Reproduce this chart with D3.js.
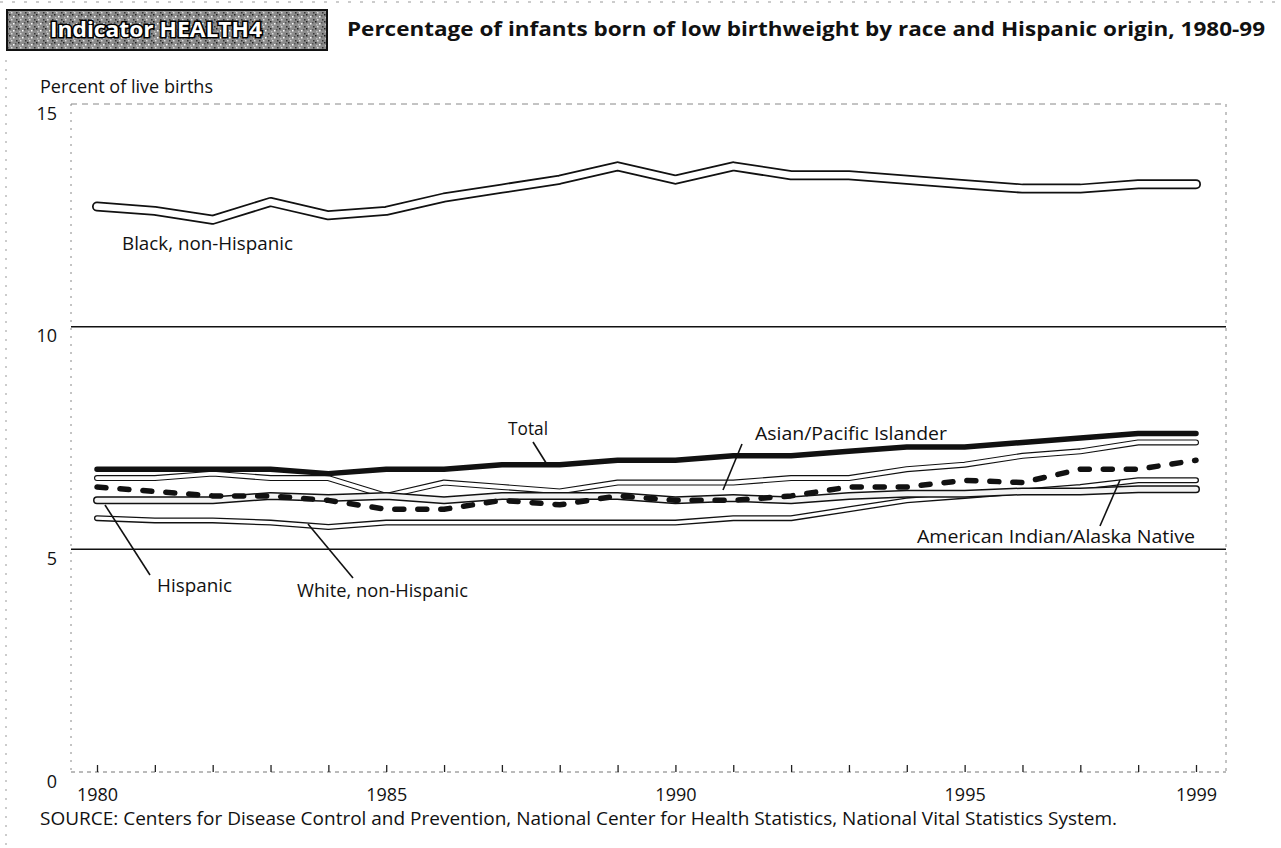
<!DOCTYPE html>
<html>
<head>
<meta charset="utf-8">
<script src="https://cdn.jsdelivr.net/npm/d3@7"></script>
<style>
  body { margin: 0; background: #fff; }
  svg { display: block; font-family: "Open Sans", sans-serif; }
</style>
</head>
<body>
<script>
var width = 1281, height = 848;

// data (percent of live births)
var years = [1980, 1981, 1982, 1983, 1984, 1985, 1986, 1987, 1988, 1989,
             1990, 1991, 1992, 1993, 1994, 1995, 1996, 1997, 1998, 1999];
var total    = [6.8, 6.8, 6.8, 6.8, 6.7, 6.8, 6.8, 6.9, 6.9, 7.0, 7.0, 7.1, 7.1, 7.2, 7.3, 7.3, 7.4, 7.5, 7.6, 7.6];
var blackNH  = [12.7, 12.6, 12.4, 12.8, 12.5, 12.6, 12.9, 13.1, 13.3, 13.6, 13.3, 13.6, 13.4, 13.4, 13.3, 13.2, 13.1, 13.1, 13.2, 13.2];
var whiteNH  = [5.7, 5.65, 5.65, 5.6, 5.5, 5.6, 5.6, 5.6, 5.6, 5.6, 5.6, 5.7, 5.7, 5.9, 6.1, 6.2, 6.3, 6.4, 6.55, 6.55];
var hispanic = [6.1, 6.1, 6.1, 6.2, 6.15, 6.2, 6.1, 6.2, 6.2, 6.2, 6.1, 6.15, 6.1, 6.2, 6.25, 6.25, 6.3, 6.3, 6.35, 6.35];
var asianPI  = [6.6, 6.6, 6.7, 6.6, 6.6, 6.2, 6.5, 6.4, 6.3, 6.5, 6.5, 6.5, 6.6, 6.6, 6.8, 6.9, 7.1, 7.2, 7.4, 7.4];
var aian     = [6.4, 6.3, 6.2, 6.2, 6.1, 5.9, 5.9, 6.1, 6.0, 6.2, 6.1, 6.1, 6.2, 6.4, 6.4, 6.55, 6.5, 6.8, 6.8, 7.0];

var yTicks = [0, 5, 10, 15];
var gridValues = [5, 10];
var xLabels = [1980, 1985, 1990, 1995, 1999];

var titleText = "Percentage of infants born of low birthweight by race and Hispanic origin, 1980-99";
var sourceText = "SOURCE: Centers for Disease Control and Prevention, National Center for Health Statistics, National Vital Statistics System.";

var plot = { left: 71, right: 1226, top: 104, bottom: 772 };

var x = d3.scaleLinear([1980, 1999], [97, 1196]);
var y = d3.scaleLinear([0, 15], [plot.bottom, plot.top]);

var svg = d3.select("body").append("svg")
    .attr("width", width)
    .attr("height", height);

// scanned page edges
svg.append("line").attr("x1", 0).attr("x2", width).attr("y1", 2).attr("y2", 2)
    .attr("stroke", "#999").attr("stroke-width", 1).attr("stroke-dasharray", "3 9");
svg.append("line").attr("x1", 6).attr("x2", 6).attr("y1", 60).attr("y2", height)
    .attr("stroke", "#999").attr("stroke-width", 1).attr("stroke-dasharray", "2 7");

// indicator box with speckled fill
var defs = svg.append("defs");
var pat = defs.append("pattern").attr("id", "speckle")
    .attr("width", 9).attr("height", 7).attr("patternUnits", "userSpaceOnUse");
pat.append("rect").attr("width", 9).attr("height", 7).attr("fill", "#8c8c8c");
[[0, 0, "#222"], [4, 2, "#fff"], [7, 5, "#333"], [2, 5, "#ddd"], [6, 1, "#555"], [1, 3, "#bbb"]]
    .forEach(function (d) {
        pat.append("rect").attr("x", d[0]).attr("y", d[1]).attr("width", 1.5).attr("height", 1.5).attr("fill", d[2]);
    });

svg.append("rect")
    .attr("x", 7).attr("y", 10).attr("width", 320).attr("height", 40)
    .attr("fill", "url(#speckle)")
    .attr("stroke", "#111").attr("stroke-width", 2);

svg.append("text")
    .attr("x", 50).attr("y", 37)
    .attr("font-size", 21).attr("font-weight", 700)
    .attr("fill", "#fff").attr("stroke", "#000").attr("stroke-width", 3)
    .attr("paint-order", "stroke")
    .attr("textLength", 212).attr("lengthAdjust", "spacingAndGlyphs")
    .text("Indicator HEALTH4");

svg.append("text")
    .attr("x", 347).attr("y", 36)
    .attr("font-size", 20).attr("font-weight", 700)
    .attr("fill", "#111")
    .attr("textLength", 918).attr("lengthAdjust", "spacingAndGlyphs")
    .text(titleText);

svg.append("text")
    .attr("x", 40).attr("y", 93)
    .attr("font-size", 18).attr("fill", "#111")
    .attr("textLength", 173).attr("lengthAdjust", "spacingAndGlyphs")
    .text("Percent of live births");

// frame
var frame = svg.append("g").attr("fill", "none");
frame.append("line")
    .attr("x1", plot.left).attr("x2", plot.right).attr("y1", plot.top).attr("y2", plot.top)
    .attr("stroke", "#888").attr("stroke-dasharray", "6 5");
frame.append("line")
    .attr("x1", plot.left).attr("x2", plot.left).attr("y1", plot.top).attr("y2", plot.bottom)
    .attr("stroke", "#888").attr("stroke-dasharray", "2 6");
frame.append("line")
    .attr("x1", plot.right).attr("x2", plot.right).attr("y1", plot.top).attr("y2", plot.bottom)
    .attr("stroke", "#888").attr("stroke-dasharray", "3 5");
frame.append("line")
    .attr("x1", plot.left).attr("x2", plot.right).attr("y1", plot.bottom).attr("y2", plot.bottom)
    .attr("stroke", "#777").attr("stroke-dasharray", "4 4");

svg.append("g")
    .selectAll("line")
    .data(gridValues)
    .join("line")
    .attr("x1", plot.left).attr("x2", plot.right)
    .attr("y1", d => y(d)).attr("y2", d => y(d))
    .attr("stroke", "#111").attr("stroke-width", 1.5);

// y axis labels (text hangs just below its gridline)
var yAxis = svg.append("g")
    .attr("transform", `translate(${plot.left}, 0)`)
    .call(d3.axisLeft(y).tickValues(yTicks).tickSize(0).tickPadding(14).tickFormat(d3.format("d")));
yAxis.select(".domain").remove();
yAxis.selectAll("text")
    .attr("dy", 15)
    .attr("font-size", 18)
    .attr("font-family", "Open Sans, sans-serif")
    .attr("fill", "#111");

// x axis: a tick every year, labels only on a few
var xAxis = svg.append("g")
    .attr("transform", `translate(0, ${plot.bottom})`)
    .call(d3.axisBottom(x)
        .tickValues(years)
        .tickSizeInner(-7).tickSizeOuter(0)
        .tickPadding(16)
        .tickFormat(d => xLabels.includes(d) ? String(d) : ""));
xAxis.select(".domain").remove();
xAxis.selectAll(".tick line").attr("stroke", "#222").attr("stroke-width", 1.3);
xAxis.selectAll("text")
    .attr("font-size", 18)
    .attr("font-family", "Open Sans, sans-serif")
    .attr("fill", "#111");

// lines
var line = d3.line()
    .x((d, i) => x(years[i]))
    .y(d => y(d));

var lines = svg.append("g").attr("fill", "none").attr("stroke-linejoin", "round");

function doubleLine(values, outer, inner, innerColor) {
    lines.append("path").attr("d", line(values))
        .attr("stroke", "#111").attr("stroke-width", outer).attr("stroke-linecap", "round");
    lines.append("path").attr("d", line(values))
        .attr("stroke", innerColor).attr("stroke-width", inner).attr("stroke-linecap", "round");
}

doubleLine(asianPI, 6, 3.8, "#fff");
doubleLine(whiteNH, 6, 3.4, "#fff");
doubleLine(hispanic, 8, 5, "#f3f3f3");

lines.append("path").attr("d", line(aian))
    .attr("stroke", "#111").attr("stroke-width", 5.5)
    .attr("stroke-linecap", "round")
    .attr("stroke-dasharray", "9 14");

lines.append("path").attr("d", line(total))
    .attr("stroke", "#111").attr("stroke-width", 5.5)
    .attr("stroke-linecap", "round");

doubleLine(blackNH, 10, 6.5, "#fff");

// series labels with leader lines
var labels = [
    { text: "Black, non-Hispanic", x: 122, y: 250, w: 171 },
    { text: "Total", x: 508, y: 435, w: 40, lead: [[533, 442], [548, 466]] },
    { text: "Asian/Pacific Islander", x: 755, y: 440, w: 192, lead: [[742, 444], [723, 490]] },
    { text: "American Indian/Alaska Native", x: 917, y: 543, w: 278, lead: [[1100, 526], [1120, 480]] },
    { text: "Hispanic", x: 157, y: 592, w: 75, lead: [[150, 575], [105, 505]] },
    { text: "White, non-Hispanic", x: 297, y: 597, w: 171, lead: [[353, 578], [308, 524]] }
];

var lab = svg.append("g");
lab.selectAll("line")
    .data(labels.filter(d => d.lead))
    .join("line")
    .attr("x1", d => d.lead[0][0]).attr("y1", d => d.lead[0][1])
    .attr("x2", d => d.lead[1][0]).attr("y2", d => d.lead[1][1])
    .attr("stroke", "#111").attr("stroke-width", 1.6);
lab.selectAll("text")
    .data(labels)
    .join("text")
    .attr("x", d => d.x).attr("y", d => d.y)
    .attr("font-size", 19).attr("fill", "#111")
    .attr("textLength", d => d.w).attr("lengthAdjust", "spacingAndGlyphs")
    .text(d => d.text);

svg.append("text")
    .attr("x", 40).attr("y", 825)
    .attr("font-size", 18).attr("fill", "#111")
    .attr("textLength", 1077).attr("lengthAdjust", "spacingAndGlyphs")
    .text(sourceText);
</script>
</body>
</html>
